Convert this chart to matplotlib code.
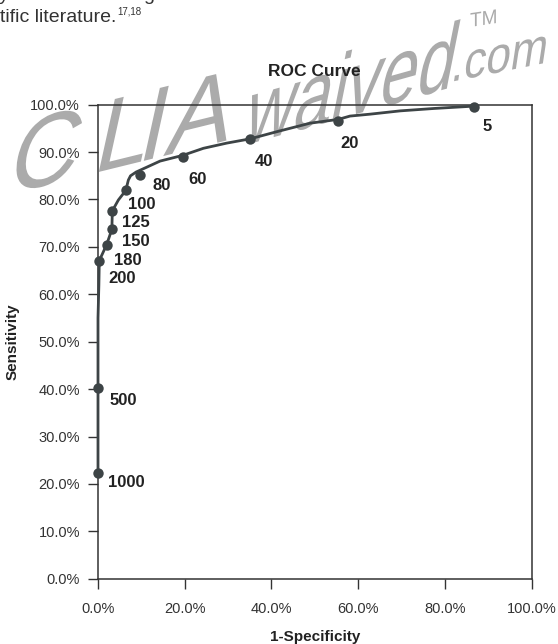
import matplotlib
matplotlib.use("Agg")
import matplotlib.pyplot as plt
from matplotlib.ticker import FuncFormatter, MultipleLocator
from matplotlib.textpath import TextPath
from matplotlib.font_manager import FontProperties
from matplotlib.patches import PathPatch
from matplotlib.transforms import Affine2D

plt.rcParams["font.family"] = ["Liberation Sans", "DejaVu Sans"]

# ROC operating points, one per cut-off
thresholds = ["5", "20", "40", "60", "80", "100", "125", "150", "180", "200", "500", "1000"]
false_pos = [86.7, 55.4, 35.1, 19.5, 9.7, 6.4, 3.3, 3.2, 2.0, 0.3, 0.0, 0.0]
sensitivity = [99.6, 96.6, 92.7, 89.0, 85.1, 81.9, 77.6, 73.7, 70.5, 67.1, 40.2, 22.3]

# smoothed trace through the operating points
curve_fpr = [0.0, 0.0, 0.0, 0.0, 0.2, 0.3, 2.0, 3.2, 3.3, 4.7, 6.4, 7.0, 7.5, 8.8,
             11.2, 14.3, 19.5, 24.3, 29.7, 35.1, 41.2, 48.9, 55.4, 58.1, 62.7,
             69.7, 77.4, 86.7]
curve_sens = [22.3, 40.2, 50.0, 55.0, 62.0, 67.1, 70.5, 73.7, 77.6, 79.9, 81.9,
              84.1, 85.0, 85.8, 86.8, 88.1, 89.3, 90.8, 91.9, 92.8, 94.3, 96.1,
              96.9, 97.6, 98.0, 98.7, 99.2, 99.7]

# label placement next to each point, in pixels (right, down)
label_offsets = [(9, 20), (2, 23), (5, 22), (6, 23), (12, 10), (2, 14), (10, 12),
                 (10, 12), (7, 16), (9, 18), (12, 12), (10, 10)]

W, H = 558, 644
INK = "#3d4446"
TXT = "#333333"

fig = plt.figure(figsize=(W / 100, H / 100), dpi=100)
fig.patch.set_facecolor("white")


def px(x, y):
    """pixel position measured from the top-left corner -> figure fraction"""
    return x / W, 1 - y / H


# --- background brand mark ---------------------------------------------------
def brand(text, x0, ybase, size, xscale, lean, slope, xs=None, color="#ababab"):
    """Slanted grey lettering; (x0, ybase) is the baseline start in pixels
    from the top-left, xs optionally places each letter along the baseline."""
    fp = FontProperties(family="Liberation Sans")
    pieces = [(text, x0)] if xs is None else list(zip(text, xs))
    for s, xi in pieces:
        path = TextPath((0, 0), s, size=size, prop=fp)
        yi = ybase - slope * (xi - x0)
        tr = (Affine2D().scale(xscale, 1.0)
              + Affine2D([[1, lean, 0], [slope, 1, 0], [0, 0, 1]])
              + Affine2D().translate(xi, H - yi)
              + Affine2D().scale(1 / W, 1 / H)
              + fig.transFigure)
        fig.add_artist(PathPatch(path, transform=tr, facecolor=color,
                                 edgecolor="none", zorder=-5))


brand("CLIA", 5, 195, 106, 0.9, 0.22, 0.246, xs=[5, 91, 135, 163])
brand("waived", 242, 146, 96, 0.70, 0.2, 0.28)
brand(".com", 450, 82, 52, 0.85, 0.15, 0.2)
brand("TM", 470, 27, 20, 0.95, 0.0, 0.15)

# --- page text above the chart ----------------------------------------------
fig.text(*px(-1, -0.5), "y", fontsize=14, color=TXT, va="baseline", ha="left")
fig.text(*px(143, -0.5), "g", fontsize=14, color=TXT, va="baseline", ha="left")
fig.text(*px(0, 21.7), "tific literature.", fontsize=14, color=TXT,
         va="baseline", ha="left")
fig.text(*px(117, 14.5), "17,18", fontsize=7, color=TXT, va="baseline", ha="left")

# --- chart -------------------------------------------------------------------
ax = fig.add_axes([98 / W, 1 - 578.7 / H, (531.7 - 98) / W, (578.7 - 104.7) / H])
ax.set_facecolor("none")
ax.set_xlim(0, 100)
ax.set_ylim(0, 100)

ax.plot(curve_fpr, curve_sens, color=INK, lw=2.0, solid_capstyle="round",
        solid_joinstyle="round", clip_on=False, zorder=3)
ax.plot(false_pos, sensitivity, "o", color=INK, ms=7.5, mec="none",
        clip_on=False, zorder=4)

for t, x, y, (dx, dy) in zip(thresholds, false_pos, sensitivity, label_offsets):
    ax.annotate(t, (x, y), xytext=(dx, -dy), textcoords="offset pixels",
                ha="left", va="center", fontsize=12, fontweight="bold",
                color="#222222", zorder=5)

fmt = FuncFormatter(lambda v, _: f"{v:.1f}%")
ax.xaxis.set_major_locator(MultipleLocator(20))
ax.yaxis.set_major_locator(MultipleLocator(10))
ax.xaxis.set_major_formatter(fmt)
ax.yaxis.set_major_formatter(fmt)

for s in ax.spines.values():
    s.set_color(TXT)
    s.set_linewidth(1.1)
ax.tick_params(axis="both", direction="out", length=7.5, width=1.0, color=TXT,
               labelsize=10.5, labelcolor=TXT, top=False, right=False)
ax.tick_params(axis="y", pad=5.5)
ax.tick_params(axis="x", pad=9)

fig.text(*px(314.8, 76.5), "ROC Curve", fontsize=12.5, fontweight="bold",
         color="#222222", ha="center", va="baseline")
fig.text(*px(13, 341.7), "Sensitivity", fontsize=11, fontweight="bold",
         color="#222222", ha="center", va="center", rotation=90)
fig.text(*px(314.8, 641), "1-Specificity", fontsize=11, fontweight="bold",
         color="#222222", ha="center", va="baseline")

fig.savefig("out.png", dpi=100, facecolor="white")
